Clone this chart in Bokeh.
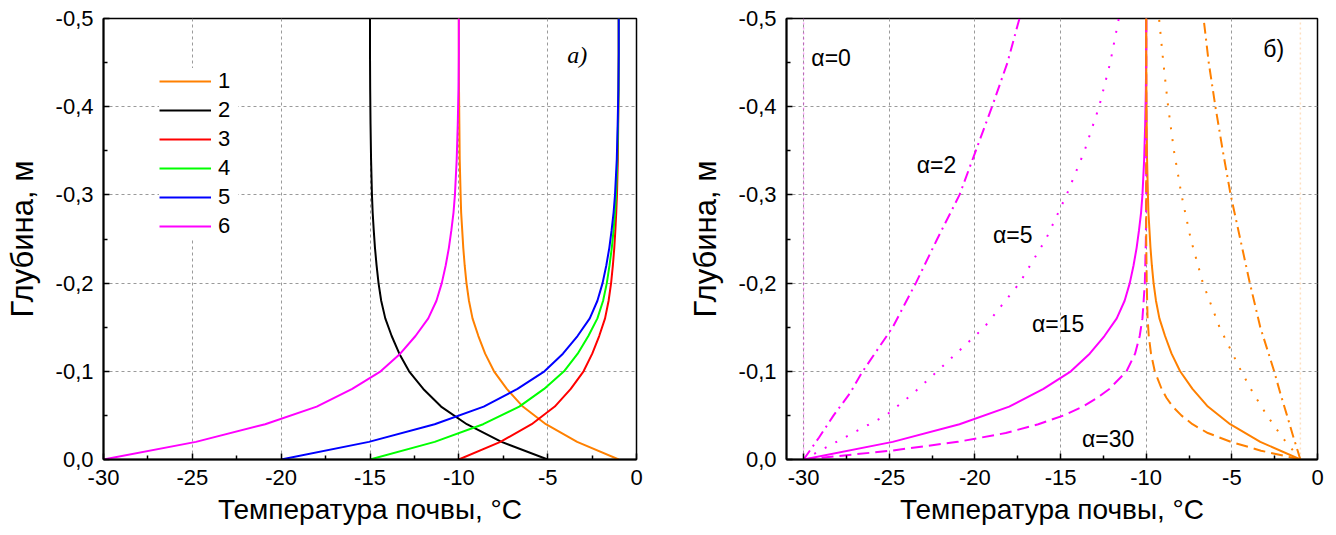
from bokeh.plotting import figure
from bokeh.layouts import row
from bokeh.models import Range1d, FixedTicker, CustomJSTickFormatter, Legend, LegendItem
from bokeh.core.properties import value
from bokeh.embed import file_html
from bokeh.resources import INLINE

# ---------------- data: panel a) ----------------
depth_a = [0.0, -0.02, -0.04, -0.06, -0.08, -0.10, -0.12, -0.14, -0.16, -0.18, -0.20,
           -0.22, -0.24, -0.26, -0.28, -0.30, -0.34, -0.38, -0.42, -0.46, -0.50]
t1 = [-1.00, -3.34, -5.10, -6.40, -7.30, -8.02, -8.52, -8.90, -9.23, -9.43, -9.57,
      -9.67, -9.75, -9.81, -9.87, -9.90, -9.95, -9.97, -9.99, -10.0, -10.0]
t2 = [-5.00, -7.60, -9.55, -11.00, -12.00, -12.80, -13.35, -13.78, -14.14, -14.37, -14.52,
      -14.63, -14.72, -14.79, -14.85, -14.89, -14.94, -14.97, -14.99, -15.0, -15.0]
t3 = [-10.00, -7.66, -5.90, -4.60, -3.70, -2.98, -2.49, -2.10, -1.77, -1.57, -1.43,
      -1.33, -1.25, -1.19, -1.14, -1.10, -1.05, -1.03, -1.01, -1.0, -1.0]
t4 = [-15.00, -11.36, -8.63, -6.60, -5.20, -4.08, -3.31, -2.71, -2.20, -1.88, -1.67,
      -1.52, -1.39, -1.29, -1.21, -1.15, -1.08, -1.04, -1.01, -1.0, -1.0]
t5 = [-20.00, -15.06, -11.36, -8.60, -6.70, -5.18, -4.14, -3.32, -2.63, -2.20, -1.91,
      -1.70, -1.53, -1.40, -1.29, -1.21, -1.11, -1.06, -1.02, -1.0, -1.0]
t6 = [-30.0, -24.8, -20.9, -18.0, -16.0, -14.4, -13.3, -12.44, -11.72, -11.26, -10.96,
      -10.74, -10.56, -10.42, -10.30, -10.22, -10.12, -10.06, -10.02, -10.0, -10.0]
series_a = [t1, t2, t3, t4, t5, t6]
labels_a = ["1", "2", "3", "4", "5", "6"]
colors_a = ["#FF8000", "#000000", "#FF0000", "#00FF00", "#0000FF", "#FF00FF"]

# ---------------- data: panel б) ----------------
depth_0 = [0.0, -0.5]
m0 = [-30.0, -30.0]
o0 = [-1.0, -1.0]
depth_s = [0.0, -0.025, -0.05, -0.075, -0.1, -0.15, -0.2, -0.25, -0.3, -0.35, -0.4, -0.45, -0.5]
m2 = [-30.0, -29.1, -28.25, -27.3, -26.55, -24.8, -23.45, -22.2, -20.9, -19.95, -19.0, -18.1, -17.4]
o2 = [-1.0, -1.4, -1.78, -2.17, -2.53, -3.34, -3.95, -4.51, -5.07, -5.53, -5.96, -6.35, -6.65]
m5 = [-30.0, -27.6, -25.2, -23.6, -22.2, -19.45, -17.4, -15.85, -14.65, -13.6, -12.75, -12.1, -11.6]
o5 = [-1.0, -2.05, -2.95, -3.75, -4.45, -5.72, -6.69, -7.40, -7.94, -8.38, -8.72, -9.0, -9.25]
m15 = t6
o15 = t1
depth_d = [0.0, -0.01, -0.02, -0.03, -0.04, -0.05, -0.06, -0.07, -0.08, -0.10, -0.12,
           -0.14, -0.16, -0.20, -0.25, -0.30, -0.40, -0.50]
m30 = [-30.0, -24.9, -21.0, -18.2, -16.3, -14.8, -13.7, -12.85, -12.15, -11.15, -10.65,
       -10.38, -10.22, -10.08, -10.02, -10.0, -10.0, -10.0]
o30 = [-1.0, -3.3, -5.05, -6.4, -7.3, -7.95, -8.45, -8.82, -9.1, -9.5, -9.72,
       -9.85, -9.92, -9.97, -10.0, -10.0, -10.0, -10.0]

alpha_labels = ["\u03b1=0", "\u03b1=2", "\u03b1=5", "\u03b1=15", "\u03b1=30"]
alpha_x = [-29.55, -23.4, -18.95, -16.67, -13.75]
alpha_y = [-0.455, -0.334, -0.254, -0.154, -0.023]

x_ticks = [-30, -25, -20, -15, -10, -5, 0]
x_minor = [-32.5, -27.5, -22.5, -17.5, -12.5, -7.5, -2.5]
y_ticks = [0.0, -0.1, -0.2, -0.3, -0.4, -0.5]
y_minor = [-0.05, -0.15, -0.25, -0.35, -0.45]

x_title = "Температура почвы, °C"
y_title = "Глубина, м"

FONT = "Liberation Sans"


def make_fig(xstart, bl, br, bt, bb):
    p = figure(width=668, height=535, output_backend="svg", toolbar_location=None,
               x_range=Range1d(xstart, 0), y_range=Range1d(0, -0.5),
               min_border_left=bl, min_border_right=br, min_border_top=bt, min_border_bottom=bb,
               background_fill_color="white", border_fill_color="white")
    p.xaxis.ticker = FixedTicker(ticks=x_ticks, minor_ticks=x_minor)
    p.yaxis.ticker = FixedTicker(ticks=y_ticks, minor_ticks=y_minor)
    p.xaxis.formatter = CustomJSTickFormatter(code="return tick.toFixed(0);")
    p.yaxis.formatter = CustomJSTickFormatter(code="return tick.toFixed(1).replace('.', ',');")
    p.xaxis.axis_label = x_title
    p.yaxis.axis_label = y_title
    for ax in (p.xaxis[0], p.yaxis[0]):
        ax.axis_line_width = 2
        ax.axis_line_color = "black"
        ax.major_tick_in = 6
        ax.major_tick_out = 0
        ax.minor_tick_in = 4
        ax.minor_tick_out = 0
        ax.major_tick_line_width = 1.5
        ax.minor_tick_line_width = 1.5
        ax.major_tick_line_color = "black"
        ax.minor_tick_line_color = "black"
        ax.major_label_text_font = FONT
        ax.major_label_text_font_size = "22px"
        ax.major_label_text_color = "black"
        ax.major_label_standoff = 10
        ax.axis_label_text_font = FONT
        ax.axis_label_text_font_size = "28px"
        ax.axis_label_text_font_style = "normal"
        ax.axis_label_text_color = "black"
    p.yaxis.axis_label_text_font_size = "31px"
    p.xaxis.axis_label_standoff = 6
    p.yaxis.axis_label_standoff = 13
    for g in (p.xgrid[0], p.ygrid[0]):
        g.grid_line_color = "#9a9a9a"
        g.grid_line_dash = "3 3"
        g.grid_line_width = 1
    p.outline_line_color = "black"
    p.outline_line_width = 1.5
    return p


# ---------------- panel a) ----------------
p1 = make_fig(-30, 103, 32, 18, 76)
items = []
for t, lab, col in zip(series_a, labels_a, colors_a):
    r = p1.line(t, depth_a, line_color=col, line_width=2)
    items.append(LegendItem(label=lab, renderers=[r]))
leg = Legend(items=items, location=(56, 220), padding=13, spacing=3, margin=0,
             glyph_width=52, glyph_height=20, label_height=20, label_standoff=7,
             label_text_font=FONT, label_text_font_size="22px", label_text_color="black",
             border_line_color=None, background_fill_color="white", background_fill_alpha=1.0)
p1.add_layout(leg)
p1.text(x=[-3.9], y=[-0.459], text=["a)"], text_font=value("Liberation Serif"),
        text_font_style="italic", text_font_size="24px", text_baseline="middle",
        text_align="left", text_color="black")

# ---------------- panel б) ----------------
p2 = make_fig(-31, 118, 19, 16, 74)
mag = "#FF00FF"
org = "#FF8000"
p2.line(m0, depth_0, line_color=mag, line_width=1.5, line_dash="2 3", line_alpha=0.35)
p2.line(o0, depth_0, line_color=org, line_width=1.5, line_dash="2 3", line_alpha=0.25)
p2.line(m2, depth_s, line_color=mag, line_width=2, line_dash="11 5 2 5")
p2.line(o2, depth_s, line_color=org, line_width=2, line_dash="11 5 2 5")
p2.line(m5, depth_s, line_color=mag, line_width=2, line_dash="2 10")
p2.line(o5, depth_s, line_color=org, line_width=2, line_dash="2 10")
p2.line(m15, depth_a, line_color=mag, line_width=2)
p2.line(o15, depth_a, line_color=org, line_width=2)
p2.line(m30, depth_d, line_color=mag, line_width=2, line_dash="12 6")
p2.line(o30, depth_d, line_color=org, line_width=2, line_dash="12 6")
p2.text(x=alpha_x, y=alpha_y, text=alpha_labels, text_font=value(FONT),
        text_font_size="23px", text_baseline="middle", text_align="left", text_color="black")
p2.text(x=[-3.16], y=[-0.465], text=["б)"], text_font=value(FONT),
        text_font_size="23px", text_baseline="middle", text_align="left", text_color="black")

layout = row(p1, p2, spacing=0)
open("out.html", "w").write(file_html(layout, INLINE))
